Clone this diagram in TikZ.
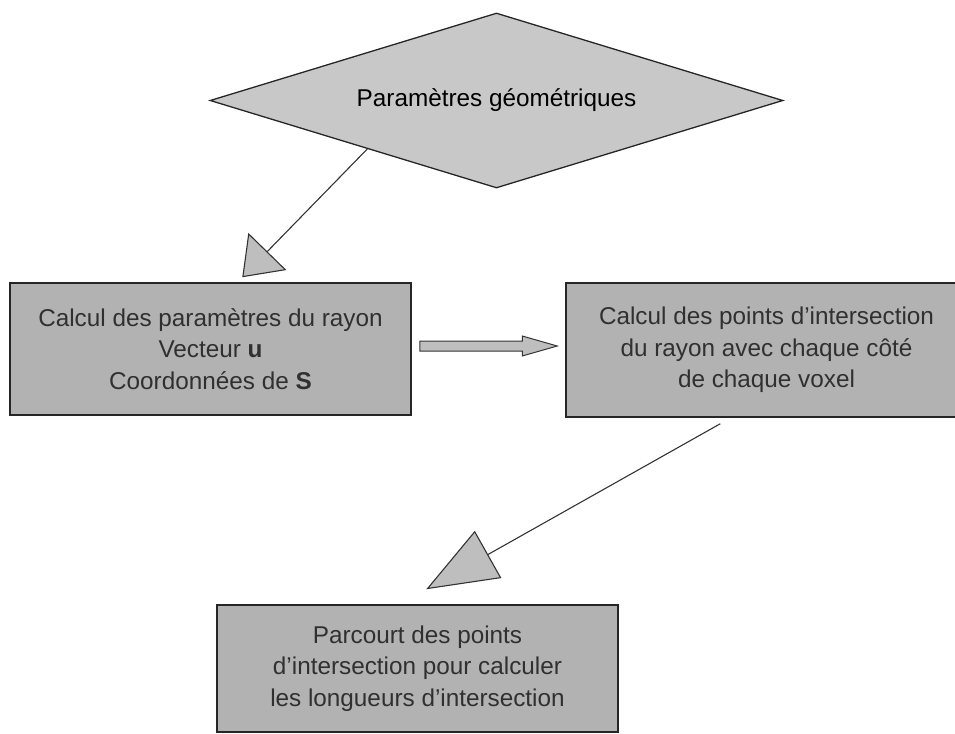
\documentclass[tikz,border=0pt]{standalone}
\usepackage{fontspec}
\setmainfont{Liberation Sans}
\usetikzlibrary{shapes.geometric,arrows.meta,calc}
\definecolor{boxfill}{HTML}{B2B2B2}
\definecolor{diafill}{HTML}{C8C8C8}
\definecolor{trifill}{HTML}{BEBEBE}
\definecolor{txtgrey}{HTML}{303030}
\begin{document}
\begin{tikzpicture}[x=1pt,y=-1pt,
  procbox/.style={draw=black!85, line width=1.5pt, fill=boxfill, inner sep=0pt, align=center,
    text=txtgrey, font=\fontsize{24.3}{31.5}\selectfont},
  decision/.style={diamond, aspect=3.27, draw=black!85, line width=1.3pt, fill=diafill, inner sep=0pt,
    font=\fontsize{24.3}{29}\selectfont},
  conn/.style={draw=black!80, line width=1.1pt},
  blockarrow/.style={draw=black!80, line width=1pt, fill=trifill}]
\useasboundingbox (0,0) rectangle (955,733);

\node[decision, minimum width=573pt, minimum height=175pt] (geo) at (496.5,100.5) {Paramètres géométriques};

\node[procbox, minimum width=401pt, minimum height=132pt] (lbox) at (210.5,349)
  {Calcul des paramètres du rayon\\Vecteur \textbf{u}\\Coordonnées de \textbf{S}};
\node[procbox, minimum width=401pt, minimum height=134pt] (rbox) at (766.5,350)
  {Calcul des points d'intersection\\du rayon avec chaque côté\\de chaque voxel};
\node[procbox, minimum width=401pt, minimum height=127pt] (bbox) at (417.5,668.5)
  {Parcourt des points\\d'intersection pour calculer\\les longueurs d'intersection};

% connector diamond -> left box
\coordinate (s1) at ($(geo.west)!0.55!(geo.south)$);
\coordinate (t1) at ($(lbox.north west)+(233,-5)$);
\draw[conn, -{Triangle[length=36pt,width=53pt,fill=trifill]}] (s1) -- (t1);

% block arrow left box -> right box
\coordinate (ba0) at ($(lbox.east)+(8,-3)$);
\coordinate (ba1) at ($(rbox.west)+(-8,-4)$);
\draw[blockarrow] ($(ba0)+(0,-5)$) -- ($(ba1)+(-35,-5)$) -- ($(ba1)+(-35,-10)$) -- (ba1)
  -- ($(ba1)+(-35,10)$) -- ($(ba1)+(-35,5)$) -- ($(ba0)+(0,5)$) -- cycle;

% connector right box -> bottom box
\coordinate (s2) at ($(rbox.south west)+(155,6)$);
\coordinate (t2) at ($(bbox.north west)+(210,-15)$);
\draw[conn, -{Triangle[length=71pt,width=54pt,fill=trifill]}] (s2) -- (t2);
\end{tikzpicture}
\end{document}
